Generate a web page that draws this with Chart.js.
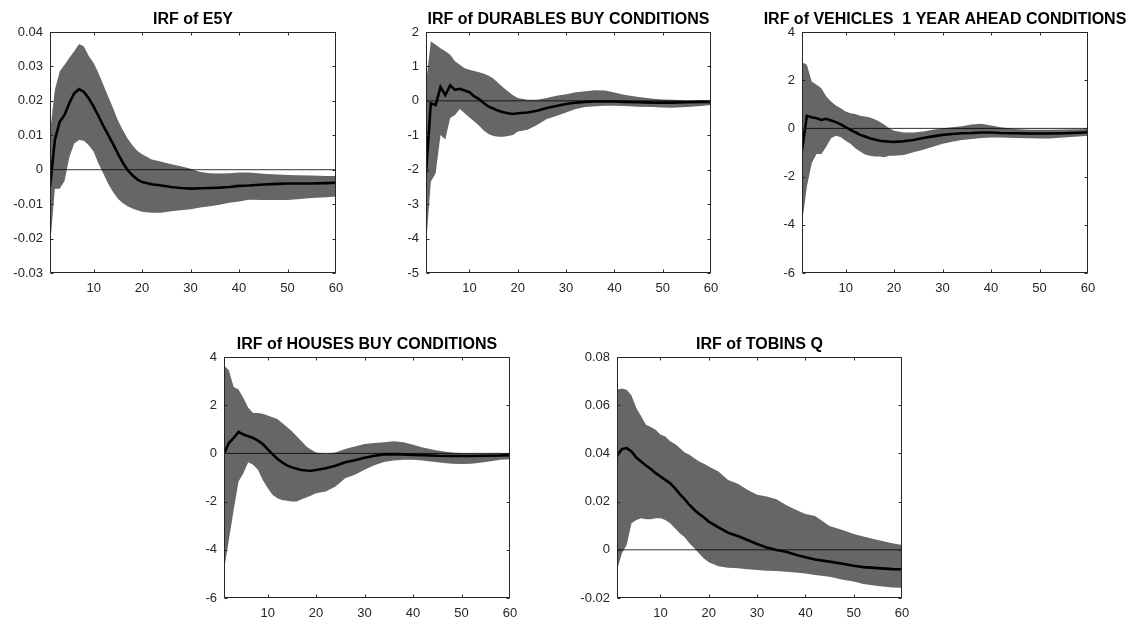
<!DOCTYPE html>
<html lang="en">
<head>
<meta charset="UTF-8">
<title>IRF panels</title>
<script src="https://cdn.jsdelivr.net/npm/chart.js"></script>
<style>
  body { margin: 0; background: #fff; width: 1132px; height: 624px; overflow: hidden; position: relative; }
  canvas { position: absolute; }
</style>
</head>
<body>
<script>
const HORIZON = [1,2,3,4,5,6,7,8,9,10,11,12,13,14,15,16,17,18,19,20,22,24,26,28,30,32,34,36,38,40,42,45,48,50,52,55,58,60];
const XTICKS = [10, 20, 30, 40, 50, 60];

const e5yMid = [-0.005,0.0086,0.0139,0.0159,0.0194,0.0222,0.0234,0.0226,0.0207,0.0183,0.0156,0.0127,0.0101,0.0075,0.0047,0.0021,-0.0001,-0.0016,-0.0028,-0.0036,
  -0.0042,-0.0046,-0.005,-0.0053,-0.0055,-0.0054,-0.0053,-0.0052,-0.005,-0.0047,-0.0046,-0.0043,-0.0041,-0.004,-0.004,-0.004,-0.0039,-0.0038];
const e5yHi = [0.0106,0.0232,0.0285,0.0305,0.0325,0.0344,0.0365,0.0358,0.033,0.031,0.0281,0.0247,0.0213,0.0179,0.0144,0.0115,0.0091,0.0071,0.0055,0.0045,
  0.003,0.0023,0.0016,0.001,0.0003,-0.0007,-0.001,-0.0011,-0.001,-0.0008,-0.0008,-0.0012,-0.0014,-0.0015,-0.0016,-0.0017,-0.0018,-0.0018];
const e5yLo = [-0.0225,-0.0055,-0.0055,-0.0033,0.0037,0.0076,0.0086,0.0084,0.0071,0.0052,0.0018,-0.0011,-0.0041,-0.0065,-0.0084,-0.0097,-0.0106,-0.0113,-0.0118,-0.0122,
  -0.0125,-0.0125,-0.0121,-0.0118,-0.0115,-0.011,-0.0106,-0.0102,-0.0096,-0.0092,-0.0087,-0.0088,-0.0088,-0.0088,-0.0086,-0.0082,-0.008,-0.0078];

const durMid = [-2.1,-0.07,-0.12,0.4,0.17,0.45,0.32,0.35,0.3,0.25,0.13,0.05,-0.07,-0.17,-0.23,-0.29,-0.33,-0.36,-0.38,-0.36,
  -0.34,-0.29,-0.21,-0.15,-0.09,-0.05,-0.03,-0.02,-0.02,-0.02,-0.03,-0.04,-0.05,-0.05,-0.05,-0.04,-0.03,-0.03];
const durHi = [0.5,1.73,1.63,1.53,1.44,1.34,1.15,1.05,0.95,0.9,0.87,0.83,0.79,0.73,0.64,0.51,0.39,0.27,0.16,0.08,
  0.03,0.03,0.08,0.15,0.19,0.25,0.28,0.31,0.3,0.24,0.18,0.11,0.06,0.04,0.03,0.01,0.01,0.01];
const durLo = [-4.2,-2.35,-2.1,-0.99,-1.12,-0.5,-0.41,-0.24,-0.36,-0.48,-0.6,-0.72,-0.87,-0.97,-1.02,-1.04,-1.04,-1.02,-0.99,-0.89,
  -0.84,-0.7,-0.53,-0.44,-0.34,-0.24,-0.18,-0.16,-0.14,-0.14,-0.15,-0.17,-0.18,-0.19,-0.2,-0.18,-0.15,-0.12];

const vehMid = [-0.92,0.52,0.46,0.42,0.35,0.4,0.33,0.26,0.17,0.05,-0.06,-0.16,-0.27,-0.34,-0.41,-0.46,-0.51,-0.53,-0.55,-0.56,
  -0.53,-0.48,-0.4,-0.33,-0.27,-0.23,-0.2,-0.19,-0.17,-0.17,-0.19,-0.2,-0.21,-0.21,-0.21,-0.2,-0.18,-0.16];
const vehHi = [2.74,2.64,1.95,1.81,1.67,1.32,1.12,0.95,0.84,0.7,0.63,0.6,0.53,0.49,0.45,0.38,0.28,0.15,0.01,-0.1,
  -0.17,-0.17,-0.13,-0.06,0.01,0.05,0.09,0.16,0.19,0.12,0.05,-0.03,-0.06,-0.06,-0.06,-0.05,-0.04,-0.02];
const vehLo = [-3.95,-2.42,-1.45,-1.06,-1.06,-0.76,-0.41,-0.31,-0.37,-0.51,-0.64,-0.82,-0.96,-1.08,-1.14,-1.17,-1.17,-1.2,-1.14,-1.13,
  -1.1,-0.99,-0.89,-0.76,-0.64,-0.55,-0.48,-0.44,-0.4,-0.38,-0.38,-0.4,-0.41,-0.42,-0.42,-0.38,-0.34,-0.31];

const houMid = [-0.01,0.43,0.64,0.89,0.78,0.71,0.64,0.53,0.39,0.18,-0.03,-0.22,-0.37,-0.5,-0.58,-0.64,-0.69,-0.71,-0.72,-0.69,
  -0.62,-0.51,-0.37,-0.28,-0.18,-0.1,-0.04,-0.03,-0.04,-0.06,-0.07,-0.1,-0.11,-0.11,-0.11,-0.1,-0.09,-0.07];
const houHi = [3.65,3.45,2.76,2.65,2.3,1.89,1.68,1.68,1.65,1.57,1.5,1.43,1.26,1.1,0.92,0.71,0.5,0.29,0.15,0.04,
  -0.01,0.04,0.18,0.29,0.39,0.43,0.46,0.5,0.46,0.36,0.25,0.12,0.04,0.01,0,0,0.01,0.01];
const houLo = [-4.84,-3.59,-2.34,-1.17,-0.82,-0.37,-0.47,-0.68,-1.1,-1.44,-1.72,-1.86,-1.93,-1.96,-2.0,-2.0,-1.9,-1.83,-1.75,-1.65,
  -1.58,-1.37,-1.03,-0.89,-0.68,-0.49,-0.36,-0.29,-0.26,-0.26,-0.29,-0.37,-0.43,-0.44,-0.43,-0.36,-0.26,-0.24];

const tobMid = [0.039,0.0418,0.0422,0.0408,0.0383,0.0366,0.035,0.0335,0.0318,0.0304,0.029,0.0276,0.0256,0.0231,0.021,0.0186,0.0166,0.0149,0.0134,0.0117,
  0.0093,0.0071,0.0057,0.0041,0.0024,0.001,-0.0001,-0.0008,-0.0021,-0.0031,-0.004,-0.0049,-0.0059,-0.0066,-0.0072,-0.0076,-0.008,-0.0081];
const tobHi = [0.0664,0.0669,0.0664,0.064,0.0588,0.0554,0.0519,0.051,0.0498,0.0478,0.047,0.045,0.0439,0.0422,0.0404,0.0394,0.038,0.0366,0.0357,0.0346,
  0.0325,0.029,0.0274,0.0249,0.0228,0.0221,0.021,0.0186,0.0166,0.0149,0.014,0.0099,0.008,0.0066,0.0055,0.0041,0.0027,0.002];
const tobLo = [-0.0084,-0.0015,0.002,0.011,0.0124,0.0131,0.0127,0.0127,0.0131,0.0131,0.0124,0.011,0.0089,0.0069,0.0052,0.0027,0.0006,-0.0015,-0.0036,-0.0052,
  -0.0068,-0.0074,-0.0077,-0.0081,-0.0084,-0.0087,-0.0088,-0.0091,-0.0094,-0.0098,-0.0105,-0.0112,-0.0125,-0.0132,-0.0142,-0.015,-0.0156,-0.0157];

const E5Y_TICKS = [-0.03,-0.02,-0.01,0,0.01,0.02,0.03,0.04];
const DUR_TICKS = [-5,-4,-3,-2,-1,0,1,2];
const VEH_TICKS = [-6,-4,-2,0,2,4];
const HOU_TICKS = [-6,-4,-2,0,2,4];
const TOB_TICKS = [-0.02,0,0.02,0.04,0.06,0.08];

const TITLES = ['IRF of E5Y', 'IRF of DURABLES BUY CONDITIONS', 'IRF of VEHICLES  1 YEAR AHEAD CONDITIONS',
  'IRF of HOUSES BUY CONDITIONS', 'IRF of TOBINS Q'];

// axes boxes on the page: left, top, right, bottom
const BOXES = [[50,32,336,273],[426,32,711,273],[802,32,1088,273],[224,357,510,598],[617,357,902,598]];
const PAD_L = 60, PAD_R = 60, PAD_T = 32, PAD_B = 28;

const panels = [
  { title: TITLES[0], mid: e5yMid, hi: e5yHi, lo: e5yLo, yt: E5Y_TICKS },
  { title: TITLES[1], mid: durMid, hi: durHi, lo: durLo, yt: DUR_TICKS },
  { title: TITLES[2], mid: vehMid, hi: vehHi, lo: vehLo, yt: VEH_TICKS },
  { title: TITLES[3], mid: houMid, hi: houHi, lo: houLo, yt: HOU_TICKS },
  { title: TITLES[4], mid: tobMid, hi: tobHi, lo: tobLo, yt: TOB_TICKS }
];

const FONT = '"Liberation Sans", Arial, Helvetica, sans-serif';
const AXIS = '#262626';
const BAND = 'rgb(102,102,102)';

// matlab-like box with inward ticks
const boxPlugin = {
  id: 'matlabBox',
  afterDraw(chart) {
    const { ctx, chartArea: a, scales } = chart;
    const L = Math.round(a.left) + 0.5, R = Math.round(a.right) - 0.5;
    const T = Math.round(a.top) + 0.5, B = Math.round(a.bottom) - 0.5;
    ctx.save();
    ctx.strokeStyle = AXIS;
    ctx.lineWidth = 1;
    ctx.strokeRect(L, T, R - L, B - T);
    ctx.beginPath();
    scales.x.ticks.forEach(t => {
      const px = Math.round(scales.x.getPixelForValue(t.value)) + 0.5;
      if (px >= R - 1) return;
      ctx.moveTo(px, B); ctx.lineTo(px, B - 3);
      ctx.moveTo(px, T); ctx.lineTo(px, T + 3);
    });
    scales.y.ticks.forEach(t => {
      const py = Math.round(scales.y.getPixelForValue(t.value)) + 0.5;
      ctx.moveTo(L, py); ctx.lineTo(L + 3, py);
      ctx.moveTo(R, py); ctx.lineTo(R - 3, py);
    });
    ctx.stroke();
    ctx.restore();
  }
};

panels.forEach((p, i) => {
  const [l, t, r, b] = BOXES[i];
  const cv = document.createElement('canvas');
  cv.width = (r - l) + PAD_L + PAD_R;
  cv.height = (b - t) + PAD_T + PAD_B;
  cv.style.left = (l - PAD_L) + 'px';
  cv.style.top = (t - PAD_T) + 'px';
  document.body.appendChild(cv);

  const pts = arr => HORIZON.map((h, k) => ({ x: h, y: arr[k] }));
  const x0 = HORIZON[0], x1 = HORIZON[HORIZON.length - 1];

  new Chart(cv.getContext('2d'), {
    type: 'line',
    data: {
      datasets: [
        { data: pts(p.mid), borderColor: '#000', borderWidth: 2.6, pointRadius: 0, tension: 0, fill: false, order: 0 },
        { data: [{ x: x0, y: 0 }, { x: x1, y: 0 }], borderColor: '#000', borderWidth: 0.8, pointRadius: 0, fill: false, order: 1 },
        { data: pts(p.hi), borderWidth: 0, borderColor: BAND, backgroundColor: BAND, pointRadius: 0, tension: 0, fill: '+1', order: 2 },
        { data: pts(p.lo), borderWidth: 0, borderColor: BAND, pointRadius: 0, tension: 0, fill: false, order: 3 }
      ]
    },
    options: {
      responsive: false,
      animation: false,
      layout: { padding: 0 },
      plugins: {
        legend: { display: false },
        tooltip: { enabled: false },
        title: {
          display: true, text: p.title, fullSize: true, color: '#000',
          font: { family: FONT, size: 16, weight: 'bold', lineHeight: 1 },
          padding: { top: 12, bottom: 4 }
        }
      },
      scales: {
        x: {
          type: 'linear', min: 1, max: 60,
          grid: { display: false, drawTicks: false },
          border: { display: false },
          afterBuildTicks: s => { s.ticks = XTICKS.map(v => ({ value: v })); },
          afterFit: s => { s.height = PAD_B; },
          ticks: { color: AXIS, padding: 8, maxRotation: 0, font: { family: FONT, size: 13 }, callback: v => String(v) }
        },
        y: {
          type: 'linear', min: p.yt[0], max: p.yt[p.yt.length - 1],
          grid: { display: false, drawTicks: false },
          border: { display: false },
          afterBuildTicks: s => { s.ticks = p.yt.map(v => ({ value: v })); },
          afterFit: s => { s.width = PAD_L; },
          ticks: { color: AXIS, padding: 7, font: { family: FONT, size: 13 }, callback: v => String(v) }
        },
        // empty right-hand axis so the title centres over the plot box
        yRight: {
          type: 'linear', position: 'right', display: true,
          grid: { display: false, drawTicks: false },
          border: { display: false },
          ticks: { display: false },
          afterFit: s => { s.width = PAD_R; }
        }
      }
    },
    plugins: [boxPlugin]
  });
});
</script>
</body>
</html>
